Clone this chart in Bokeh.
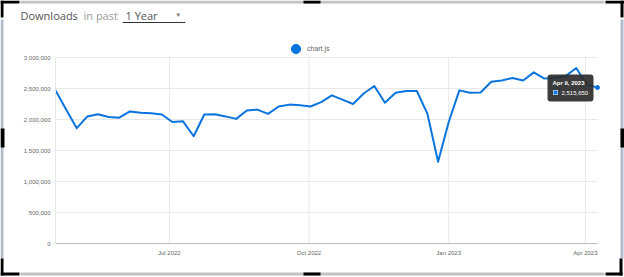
import pandas as pd
from bokeh.plotting import figure
from bokeh.models import (Range1d, FixedTicker, NumeralTickFormatter, BoxAnnotation,
                          Label, Legend, LegendItem, LinearAxis, DatetimeAxis)
from bokeh.embed import file_html
from bokeh.resources import INLINE

# ---------------- data ----------------
package_name = "chart.js"
week_dates = list(pd.date_range("2022-04-17", "2023-04-09", freq="7D"))
weekly_downloads = [
    2470000, 2160000, 1860000, 2050000, 2085000, 2040000, 2030000, 2130000,
    2110000, 2100000, 2080000, 1960000, 1970000, 1730000, 2080000, 2085000,
    2050000, 2010000, 2145000, 2160000, 2090000, 2210000, 2240000, 2230000,
    2210000, 2280000, 2390000, 2320000, 2250000, 2420000, 2540000, 2270000,
    2430000, 2460000, 2460000, 2090000, 1320000, 1960000, 2470000, 2430000,
    2435000, 2610000, 2630000, 2670000, 2630000, 2760000, 2660000, 2670000,
    2700000, 2830000, 2560000, 2515650,
]
y_ticks = [0, 500000, 1000000, 1500000, 2000000, 2500000, 3000000]
x_tick_dates = ["2022-07-01", "2022-10-01", "2023-01-01", "2023-04-01"]
x_tick_labels = ["Jul 2022", "Oct 2022", "Jan 2023", "Apr 2023"]
header_words = ["Downloads", "in past", "1 Year"]
y_max = 3000000

# ---------------- styling / layout constants ----------------
BLUE = "#0b74de"
GRID = "#e8e8e8"
TICK_FONT = "Liberation Sans"
GRAY_H = "#c2c2c2"
GRAY_V = "#b3bccb"
BLACK = "#000000"
W, H = 624, 277
PL, PR, PT, PB = 55, 597, 57, 243   # plot area in page pixels

t0 = pd.Timestamp(week_dates[0]).value / 1e6
t1 = pd.Timestamp(week_dates[-1]).value / 1e6
ms_per_px = (t1 - t0) / (PR - PL)
val_per_px = y_max / (PB - PT)

p = figure(width=W, height=H, output_backend="svg", toolbar_location=None,
           x_axis_location=None, y_axis_location=None,
           min_border=0, min_border_left=0, min_border_right=0,
           min_border_top=0, min_border_bottom=0,
           x_range=Range1d(t0 - PL * ms_per_px, t1 + (W - PR) * ms_per_px),
           y_range=Range1d(-(H - PB) * val_per_px, y_max + PT * val_per_px))
p.grid.visible = False
p.outline_line_color = None
p.background_fill_color = "white"
p.border_fill_color = "white"

# grid lines at the tick positions
tick_ms = [pd.Timestamp(d).value / 1e6 for d in x_tick_dates]
p.segment(x0=[t0] * len(y_ticks[1:]), x1=[t1] * len(y_ticks[1:]),
          y0=y_ticks[1:], y1=y_ticks[1:], line_color=GRID, line_width=1)
p.segment(x0=tick_ms, x1=tick_ms, y0=[0] * len(tick_ms), y1=[y_max] * len(tick_ms),
          line_color=GRID, line_width=1)

line_r = p.line(week_dates, weekly_downloads, line_color=BLUE, line_width=2,
                line_join="round")
hover_pt = p.scatter([week_dates[-1]], [weekly_downloads[-1]], marker="circle",
                     size=4, fill_color=BLUE, line_color=BLUE)

# axes fixed at the plot-area edges
yaxis = LinearAxis(fixed_location=t0, bounds=(0, y_max),
                   ticker=FixedTicker(ticks=y_ticks),
                   formatter=NumeralTickFormatter(format="0,0"))
xaxis = DatetimeAxis(fixed_location=0, bounds=(t0, t1),
                     ticker=FixedTicker(ticks=tick_ms))
xaxis.major_label_overrides = {t: lab for t, lab in zip(tick_ms, x_tick_labels)}
for ax in (xaxis, yaxis):
    ax.major_tick_line_color = None
    ax.minor_tick_line_color = None
    ax.major_tick_out = 0
    ax.major_tick_in = 0
    ax.major_label_text_font = TICK_FONT
    ax.major_label_text_font_size = "6px"
    ax.major_label_text_color = "#666666"
xaxis.major_label_standoff = 6
yaxis.major_label_standoff = 5
xaxis.axis_line_color = "#bdbdbd"
yaxis.axis_line_color = GRID
p.add_layout(yaxis, "left")
p.add_layout(xaxis, "below")

# legend (chart.js style, centred above the plot)
legend = Legend(items=[LegendItem(label=package_name, renderers=[hover_pt])],
                location=(284, H - 37 - 23), orientation="horizontal",
                glyph_width=23, glyph_height=23, label_standoff=-4,
                padding=0, margin=0, spacing=0,
                border_line_color=None, background_fill_alpha=0,
                label_text_font=TICK_FONT, label_text_font_size="7px",
                label_text_color="#666666", label_text_baseline="middle")
p.add_layout(legend)


def box(l, r, t, b, color, alpha=1.0, radius=0):
    p.add_layout(BoxAnnotation(left=l, right=r, top=t, bottom=b,
                               left_units="canvas", right_units="canvas",
                               top_units="canvas", bottom_units="canvas",
                               fill_color=color, fill_alpha=alpha,
                               line_color=None, border_radius=radius))


def label(x, y, text, color, size, font="Open Sans", style="normal"):
    p.add_layout(Label(x=x, y=y, x_units="canvas", y_units="canvas", text=text,
                       text_color=color, text_font=font, text_font_size=size,
                       text_font_style=style, text_baseline="middle",
                       text_align="left"))


# header
label(20, 15, header_words[0], "#555555", "11px")
label(83, 15, header_words[1], "#9a9a9a", "11px")
label(125, 15, header_words[2], "#555555", "11px")
label(176, 14, "\u25BE", "#777777", "7px", font="DejaVu Sans")
box(122, 185, 21.5, 22.6, "#333333")

# tooltip at the last point
last_date = week_dates[-1]
tip_title = f"{last_date:%b} {last_date.day}, {last_date.year}"
tip_value = f"{weekly_downloads[-1]:,}"
box(547, 593, 74, 101, "#2b2b2b", alpha=0.92, radius=3)
label(552, 82, tip_title, "white", "6px", font=TICK_FONT, style="bold")
box(552.5, 557.5, 89.5, 94.5, "white")
box(553, 557, 90, 94, BLUE)
label(561, 92.2, tip_value, "white", "6px", font=TICK_FONT)

# selection frame around the card
box(20, 604, 0, 3, GRAY_H)
box(20, 604, 272, 275, GRAY_H)
box(0, 3, 19, 258, GRAY_V)
box(620, 623, 19, 258, GRAY_V)
box(0, 19, 0, 3, BLACK); box(0, 3, 0, 17, BLACK)
box(605, 624, 0, 3, BLACK); box(620, 623, 0, 17, BLACK)
box(0, 19, 272, 275, BLACK); box(0, 3, 258, 275, BLACK)
box(605, 622, 272, 275, BLACK); box(619, 622, 258, 275, BLACK)
box(303, 320, 0, 3, BLACK); box(303, 320, 272, 275, BLACK)
box(0, 4, 128, 147, BLACK); box(620, 624, 128, 147, BLACK)

open("out.html", "w").write(file_html(p, INLINE))
